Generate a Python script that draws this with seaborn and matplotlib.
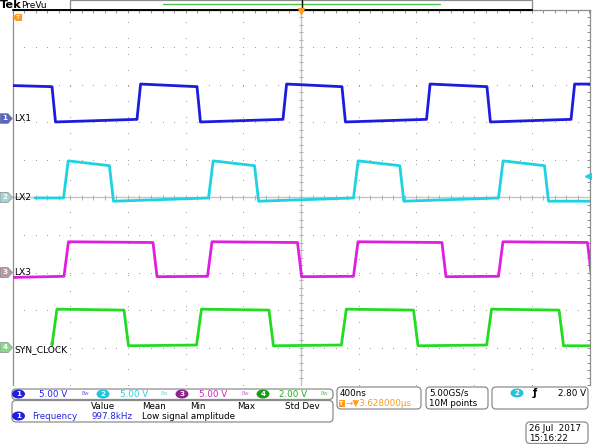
import numpy as np
import pandas as pd
import seaborn as sns
import matplotlib.pyplot as plt
from matplotlib.patches import FancyBboxPatch, Ellipse, Polygon, Rectangle
from matplotlib.lines import Line2D
from matplotlib.transforms import IdentityTransform
from matplotlib.ticker import MultipleLocator

# scope settings
channels = ["LX1", "LX2", "LX3", "SYN_CLOCK"]
volts_per_div = [5.0, 5.0, 5.0, 2.0]
ground_div = [2.1, 0.0, -2.0, -4.0]      # channel ground markers, divisions from centre
time_per_div = 0.4                        # us  (400ns)
trigger_level = 2.80                      # V on ch2
trigger_delay = "3.628000µs"
frequency = "997.8kHz"
sample_rate = "5.00GS/s"
record_len = "10M points"

# edge start times in us (0 = screen centre)
ch1_rise = [-1.137, -0.125, 0.870, 1.872]
ch1_fall = [-1.726, -0.721, 0.284, 1.289]
ch2_rise = [-1.646, -0.641, 0.364, 1.369]
ch2_fall = [-1.328, -0.322, 0.685, 1.688]
ch3_rise = [-1.643, -0.648, 0.364, 1.369]
ch3_fall = [-1.026, -0.024, 0.977, 1.986]
ch4_rise = [-1.726, -0.724, 0.280, 1.287]
ch4_fall = [-1.227, -0.222, 0.780, 1.789]

# levels in volts: [start, end] of each flat part, first visible sample, edge times [rise, fall]
ch1_high, ch1_low, ch1_first, ch1_edge = [4.60, 4.25], [-0.45, -0.10], [-2.0, 4.40], [0.025, 0.024]
ch2_high, ch2_low, ch2_first, ch2_edge = [4.87, 4.23], [-0.50, -0.07], [-1.844, -0.07], [0.032, 0.028]
ch3_high, ch3_low, ch3_first, ch3_edge = [4.10, 4.00], [-0.55, -0.50], [-2.0, -0.65], [0.031, 0.028]
ch4_high, ch4_low, ch4_first, ch4_edge = [2.05, 2.00], [0.10, 0.14], [-1.726, 0.28], [0.034, 0.031]

trace_colors = ["#1c1cdc", "#1fd2e2", "#e01ee0", "#22dc22"]
text_colors = ["#2626e0", "#30cce0", "#c42cc4", "#1eae1e"]
badge_colors = ["#2020d8", "#22c4dc", "#8e248e", "#1a9c1a"]
marker_colors = ["#5c64c4", "#a6d2d2", "#b29aa8", "#8ad88a"]
ORANGE = "#ff9a1a"


def build_trace(first, rises, falls, edge, high, low, t_end=2.0):
    events = sorted([(t, 1) for t in rises] + [(t, 0) for t in falls])
    ts, vs = [first[0]], [first[1]]
    for t, up in events:
        if up:
            ts += [t, t + edge[0]]
            vs += [low[1], high[0]]
        else:
            ts += [t, t + edge[1]]
            vs += [high[1], low[0]]
    if t_end > ts[-1]:
        ts.append(t_end)
        vs.append(vs[-1])
    return ts, vs


specs = [
    (ch1_first, ch1_rise, ch1_fall, ch1_edge, ch1_high, ch1_low),
    (ch2_first, ch2_rise, ch2_fall, ch2_edge, ch2_high, ch2_low),
    (ch3_first, ch3_rise, ch3_fall, ch3_edge, ch3_high, ch3_low),
    (ch4_first, ch4_rise, ch4_fall, ch4_edge, ch4_high, ch4_low),
]
frames = []
for name, vdiv, gnd, spec in zip(channels, volts_per_div, ground_div, specs):
    ts, vs = build_trace(*spec)
    frames.append(pd.DataFrame({"time": ts, "div": gnd + np.array(vs) / vdiv, "channel": name}))
df = pd.concat(frames, ignore_index=True)

sns.set_style("white")
plt.rcParams["font.family"] = ["DejaVu Sans"]

W, H = 592, 444
ID = IdentityTransform()
fig = plt.figure(figsize=(W / 100, H / 100), dpi=100, facecolor="white")
ax = fig.add_axes([12.5 / W, 1 - 385.2 / H, 577 / W, 375.5 / H])
half = 5 * time_per_div
ax.set_xlim(-half, half)
ax.set_ylim(-5, 5)


def fx(x):
    return x / W


def fy(y):
    return 1 - y / H


def txt(x, y, s, color="black", size=6.3, **kw):
    fig.text(fx(x), fy(y), s, color=color, fontsize=size, va="center", **kw)


def box(x0, y0, x1, y1):
    fig.add_artist(FancyBboxPatch((x0, H - y1), x1 - x0, y1 - y0,
                                  boxstyle="round,pad=0,rounding_size=4", transform=ID,
                                  fc="white", ec="#8c8c8c", lw=0.9))


def badge(x, y, s, color):
    fig.add_artist(Ellipse((x, H - y), 13, 9, transform=ID, fc=color, ec="none"))
    txt(x, y + 0.3, s, color="white", size=5.2, ha="center", weight="bold")


# dotted graticule
gx = np.arange(-half, half + 1e-9, time_per_div)
gy = np.arange(-5, 6, 1)
for y in gy[1:-1]:
    xs = np.arange(-half, half + 1e-9, time_per_div / 5)
    ax.scatter(xs, np.full_like(xs, y), s=0.5, color="#9a9a9a", lw=0, zorder=1)
for x in gx[1:-1]:
    ys = np.arange(-5, 5.01, 0.42)
    ax.scatter(np.full_like(ys, x), ys, s=0.5, color="#9a9a9a", lw=0, zorder=1)

# centre crosshair with minor ticks
ax.axhline(0, color="#c4c4c4", lw=1.0, zorder=1)
ax.axvline(0, color="#c4c4c4", lw=1.0, zorder=1)
ax.vlines(np.arange(-half, half + 1e-9, time_per_div / 5), -0.06, 0.06, color="#b0b0b0", lw=0.7, zorder=1)
ax.hlines(np.arange(-5, 5.01, 0.2), -0.016, 0.016, color="#b0b0b0", lw=0.7, zorder=1)

sns.lineplot(data=df, x="time", y="div", hue="channel", hue_order=channels,
             palette=trace_colors, sort=False, estimator=None, legend=False,
             lw=2.0, ax=ax, zorder=3)

# frame
ax.set_xticks(gx)
ax.set_yticks(gy)
ax.xaxis.set_minor_locator(MultipleLocator(time_per_div / 5))
ax.yaxis.set_minor_locator(MultipleLocator(0.2))
ax.tick_params(which="both", direction="in", length=2.5, width=0.7, color="#8c8c8c",
               top=True, right=True, bottom=False, labelbottom=False, labelleft=False)
ax.set_xlabel("")
ax.set_ylabel("")
for side in ["left", "right", "top"]:
    ax.spines[side].set_color("#8c8c8c")
    ax.spines[side].set_linewidth(0.9)
ax.spines["bottom"].set_visible(False)

# trigger level arrow on the right edge
ax.plot([half - 0.012], [ground_div[1] + trigger_level / volts_per_div[1]], marker="<",
        ms=4, color=trace_colors[1], clip_on=False, zorder=4)

# channel names and ground markers
fig.canvas.draw()
for i, (name, gnd) in enumerate(zip(channels, ground_div)):
    yc = ax.transData.transform((0, gnd))[1]
    pts = [(0, yc - 5), (8, yc - 5), (12.5, yc), (8, yc + 5), (0, yc + 5)]
    fig.add_artist(Polygon(pts, closed=True, transform=ID, fc=marker_colors[i], ec="#8a8a8a", lw=0.5))
    fig.text(5 / W, (yc + 0.3) / H, str(i + 1), color="white", fontsize=5.2, weight="bold",
             ha="center", va="center")
    dy = -2 if name == "SYN_CLOCK" else 0
    fig.text(14 / W, (yc + dy) / H, name, color="black", fontsize=6.6, va="center")

# trigger position marker (off-screen left)
fig.add_artist(Polygon([(12.5, H - 17.5), (16, H - 14), (22, H - 14), (22, H - 21), (16, H - 21)],
                       closed=True, transform=ID, fc=ORANGE, ec="none"))
txt(18.3, 17.6, "T", color="#ffe0b0", size=4.6, ha="center", weight="bold")

# header
txt(0, 5.5, "Tek", size=8.2, weight="bold")
txt(21, 5.5, "PreVu", size=6.5)
fig.add_artist(Rectangle((70, H - 9.5), 462, 9.5, transform=ID, fc="white", ec="#8c8c8c", lw=0.9))
fig.add_artist(Line2D([163, 440], [H - 4.3, H - 4.3], transform=ID, color="#50c050", lw=1.0))
fig.add_artist(Line2D([12.5, 532], [H - 9.5, H - 9.5], transform=ID, color="black", lw=1.4))
fig.add_artist(Line2D([301.5, 301.5], [H - 9.5, H], transform=ID, color="black", lw=1.0))
fig.add_artist(Line2D([301], [H - 10.5], transform=ID, marker="v", ms=5, color=ORANGE, lw=0))

# vertical scale row
box(12, 389, 333, 399.5)
badge_x = [18.5, 103, 182, 263]
scale_x = [39, 120, 199, 279]
icon_x = [85, 164, 245, 324]
for i in range(4):
    badge(badge_x[i], 394, str(i + 1), badge_colors[i])
    txt(scale_x[i], 394.3, f"{volts_per_div[i]:.2f} V", color=text_colors[i])
    txt(icon_x[i], 393.5, "Bw", color=text_colors[i], size=3.6, ha="center", alpha=0.7)

# measurement panel
box(12, 400.5, 333, 422)
for label, x in zip(["Value", "Mean", "Min", "Max", "Std Dev"], [91, 142, 190, 237, 285]):
    txt(x, 406, label)
badge(18.5, 416, "1", badge_colors[0])
txt(32, 416, "Frequency", color=text_colors[0])
txt(91, 416, frequency, color=text_colors[0])
txt(142, 416, "Low signal amplitude")

# horizontal panel
box(337, 387, 421, 409)
txt(340, 393, f"{time_per_div * 1000:.0f}ns")
fig.add_artist(Rectangle((338.5, H - 407), 6, 7, transform=ID, fc=ORANGE, ec="none"))
txt(341.5, 403.3, "T", color="white", size=4.6, ha="center", weight="bold")
txt(345.5, 403.5, "→▼" + trigger_delay, color=ORANGE)

box(426, 387, 488, 409)
txt(429, 393, sample_rate)
txt(429, 403.5, record_len)

# trigger panel
box(492, 387, 588, 409)
badge(517, 393, "2", badge_colors[1])
txt(535, 393, "ƒ", size=7, ha="center", weight="bold")
txt(586, 393, f"{trigger_level:.2f} V", ha="right")

# date
box(526, 422, 588, 443.5)
txt(529, 428.5, "26 Jul  2017")
txt(529, 438.5, "15:16:22")

fig.savefig("out.png", dpi=100, facecolor="white")
